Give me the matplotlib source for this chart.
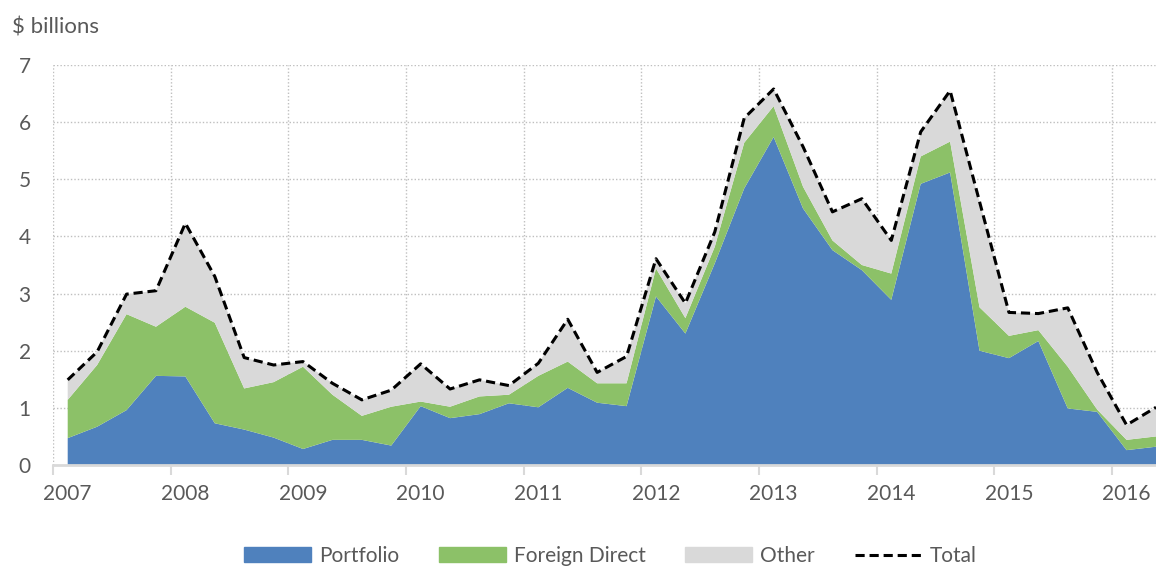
import numpy as np
import matplotlib
matplotlib.use("Agg")
import matplotlib.pyplot as plt
from matplotlib.patches import Patch
from matplotlib.lines import Line2D

# quarterly flows, 2007 Q1 .. 2016 Q2 ($ billions)
years = list(range(2007, 2017))
portfolio = [0.47, 0.67, 0.96, 1.56, 1.55, 0.73, 0.62, 0.48, 0.28, 0.44,
             0.44, 0.34, 1.03, 0.82, 0.89, 1.08, 1.01, 1.35, 1.09, 1.03,
             2.95, 2.30, 3.53, 4.84, 5.74, 4.49, 3.76, 3.41, 2.89, 4.92,
             5.12, 2.00, 1.87, 2.17, 0.99, 0.93, 0.26, 0.32]
foreign_direct = [0.67, 1.08, 1.68, 0.86, 1.22, 1.76, 0.72, 0.97, 1.44, 0.79,
                  0.42, 0.68, 0.08, 0.20, 0.31, 0.15, 0.55, 0.46, 0.34, 0.40,
                  0.49, 0.27, 0.29, 0.80, 0.54, 0.38, 0.17, 0.09, 0.46, 0.48,
                  0.54, 0.76, 0.39, 0.19, 0.73, 0.04, 0.18, 0.18]
other = [0.35, 0.23, 0.35, 0.63, 1.46, 0.81, 0.54, 0.30, 0.09, 0.20,
         0.28, 0.29, 0.66, 0.31, 0.29, 0.16, 0.22, 0.74, 0.19, 0.47,
         0.17, 0.26, 0.26, 0.43, 0.30, 0.70, 0.50, 1.16, 0.58, 0.43,
         0.89, 1.85, 0.41, 0.29, 1.03, 0.65, 0.26, 0.51]

total = np.array(portfolio) + np.array(foreign_direct) + np.array(other)
x = np.arange(len(portfolio))

c_blue = "#4F81BD"
c_green = "#8CC168"
c_grey = "#D9D9D9"
txt = "#595959"

plt.rcParams["font.family"] = ["Lato", "DejaVu Sans"]

fig = plt.figure(figsize=(11.56, 5.67), dpi=100)
ax = fig.add_axes([53 / 1156, 1 - 465 / 567, 1 - 53 / 1156, 400 / 567])

ax.stackplot(x, portfolio, foreign_direct, other,
             colors=[c_blue, c_green, c_grey], linewidth=0)
ax.plot(x, total, color="black", linestyle=(0, (3, 1.6)), linewidth=2.2)

ax.set_xlim(-0.5, 37.0)
ax.set_ylim(0, 7)

# dotted grid
for yv in range(1, 8):
    ax.axhline(yv, color="#BFBFBF", linestyle=(0, (1, 1.5)), linewidth=1, zorder=0)
bounds = np.arange(-0.5, 37, 4)
for bx in bounds:
    ax.axvline(bx, color="#BFBFBF", linestyle=(0, (1, 1.5)), linewidth=1, zorder=0)

for s in ["top", "right", "left"]:
    ax.spines[s].set_visible(False)
ax.spines["bottom"].set_color(c_grey)
ax.spines["bottom"].set_linewidth(2)

ax.set_xticks(bounds)
ax.set_xticklabels([])
ax.tick_params(axis="x", which="major", length=7, width=1.5, color=c_grey)
ax.set_xticks(np.arange(0, 38, 4), minor=True)
ax.set_xticklabels([str(y) for y in years], minor=True)
ax.tick_params(axis="x", which="minor", length=0, pad=14, labelsize=15, labelcolor=txt)

ax.set_yticks(range(0, 8))
ax.tick_params(axis="y", length=0, pad=16, labelsize=15, labelcolor=txt)

fig.text(12 / 1156, 1 - 27 / 567, "$ billions", fontsize=16, color=txt, va="center")

handles = [Patch(color=c_blue, label="Portfolio"),
           Patch(color=c_green, label="Foreign Direct"),
           Patch(color=c_grey, label="Other"),
           Line2D([0], [0], color="black", linestyle=(0, (3, 1.6)), linewidth=2.2, label="Total")]
fig.legend(handles=handles, loc="center", bbox_to_anchor=(0.528, 1 - 556 / 567),
           ncol=4, frameon=False, fontsize=15, labelcolor=txt,
           handlelength=3.2, handleheight=0.7, columnspacing=1.9, handletextpad=0.4)

fig.savefig("out.png", dpi=100)
